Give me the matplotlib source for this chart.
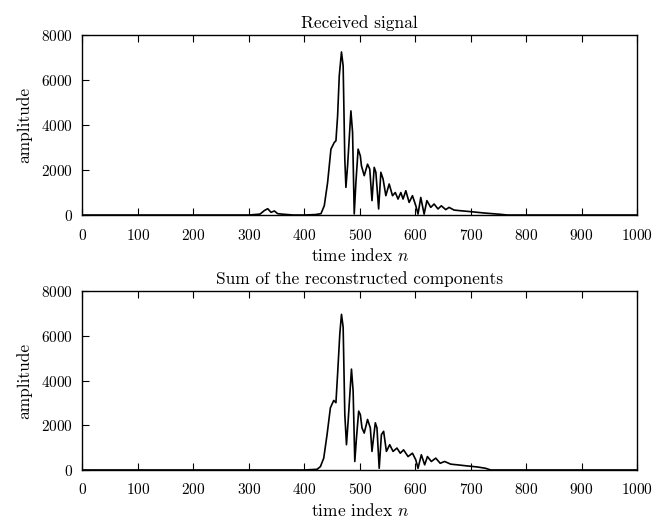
import matplotlib
matplotlib.use("Agg")
import matplotlib.pyplot as plt

plt.rcParams['font.family'] = 'serif'
plt.rcParams['font.serif'] = ['cmr10', 'DejaVu Serif']
plt.rcParams['mathtext.fontset'] = 'cm'
plt.rcParams['axes.formatter.use_mathtext'] = True

# received signal (time index, amplitude)
n_rx = [0, 200, 300, 320, 328, 334, 340, 346, 352, 360, 380, 400, 420, 430,
        436, 442, 448, 454, 457, 460, 463, 467, 470, 473, 475, 478, 484, 487,
        490, 493, 497, 501, 503, 508, 514, 518, 522, 526, 529, 534, 538, 542,
        547, 553, 559, 564, 569, 574, 578, 583, 589, 595, 601, 605, 610, 616,
        621, 628, 634, 641, 647, 655, 661, 670, 682, 700, 724, 754, 766, 1000]
a_rx = [0, 0, 0, 40, 200, 280, 120, 180, 60, 40, 0, 0, 20, 60,
        414, 1450, 2930, 3226, 3300, 4400, 6190, 7250, 6630, 2490, 1230, 2190, 4630, 3670,
        50, 1450, 2930, 2630, 2190, 1750, 2260, 2040, 640, 2120, 1900, 270, 1900, 1600,
        860, 1380, 860, 1000, 710, 1000, 710, 1080, 560, 860, 414, 44, 780, 40,
        640, 340, 490, 270, 410, 240, 340, 220, 190, 150, 90, 30, 0, 0]

# sum of reconstructed components
n_sum = [0, 400, 423, 429, 435, 441, 447, 453, 457, 460, 464, 467, 470, 473,
         476, 479, 485, 488, 491, 494, 498, 501, 504, 508, 514, 519, 522, 528,
         531, 535, 539, 543, 548, 554, 560, 567, 573, 579, 587, 595, 601, 605,
         611, 617, 622, 629, 637, 645, 653, 664, 676, 694, 712, 727, 736, 1000]
a_sum = [0, 0, 30, 150, 530, 1580, 2780, 3110, 3010, 4290, 6090, 6960, 6390, 2480,
         1130, 2180, 4510, 3530, 380, 1430, 2630, 2480, 1880, 1650, 2260, 1880, 830, 2110,
         1880, 75, 1580, 1730, 830, 1130, 830, 980, 750, 900, 600, 750, 450, 75,
         680, 230, 600, 380, 530, 300, 380, 260, 230, 180, 135, 75, 0, 0]

xticks = list(range(0, 1001, 100))
yticks = [0, 2000, 4000, 6000, 8000]

fig = plt.figure(figsize=(6.61, 5.2), dpi=100)
ax1 = fig.add_axes([0.1248, 0.5865, 0.839, 0.346])
ax2 = fig.add_axes([0.1248, 0.0962, 0.839, 0.344])

for ax, n, a, title in [(ax1, n_rx, a_rx, 'Received signal'),
                        (ax2, n_sum, a_sum, 'Sum of the reconstructed components')]:
    ax.plot(n, a, color='black', linewidth=1.2)
    ax.set_xlim(0, 1000)
    ax.set_ylim(0, 8000)
    ax.set_xticks(xticks)
    ax.set_yticks(yticks)
    ax.tick_params(direction='in', top=True, right=False, length=5, labelsize=11)
    ax.tick_params(axis='x', pad=9)
    ax.tick_params(axis='y', pad=7)
    ax.set_title(title, fontsize=12.5, pad=5)
    ax.set_xlabel(r'time index $n$', fontsize=12.5, labelpad=3)
    ax.set_ylabel('amplitude', fontsize=12.5, labelpad=6)
    for s in ax.spines.values():
        s.set_linewidth(1.0)

fig.savefig('out.png', dpi=100)
